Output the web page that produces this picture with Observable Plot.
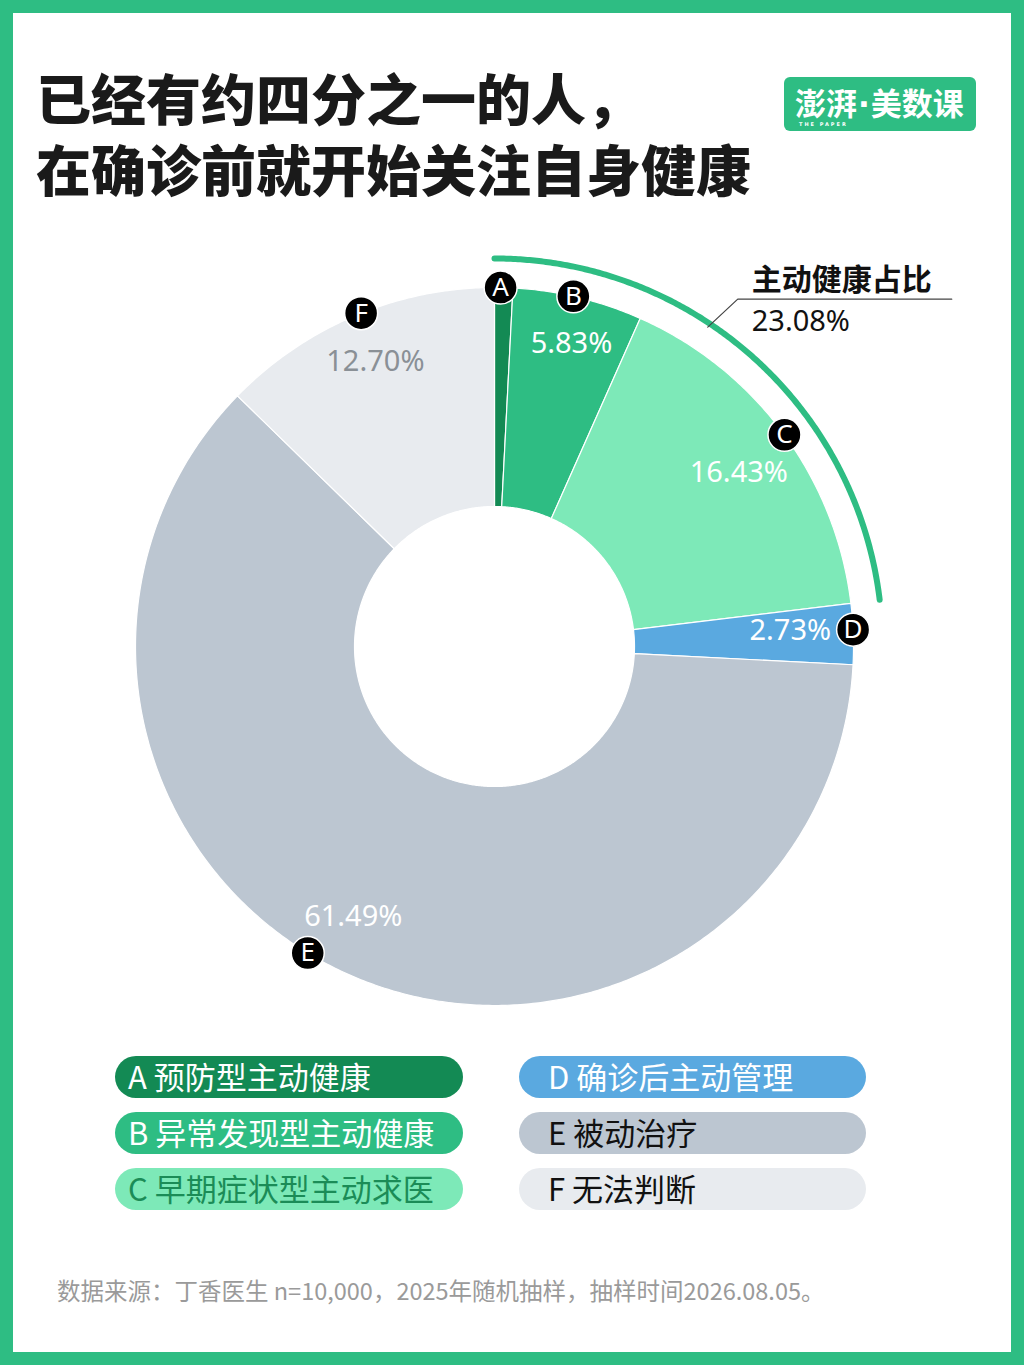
<!DOCTYPE html>
<html><head><meta charset="utf-8">
<script src="https://cdn.jsdelivr.net/npm/d3@7"></script>
<script src="https://cdn.jsdelivr.net/npm/@observablehq/plot@0.6"></script>
<style>
body{margin:0;}
#page{position:relative;width:1024px;height:1365px;background:#2ebd83;overflow:hidden;font-family:"Noto Sans CJK SC","Noto Sans",sans-serif;}
#inner{position:absolute;left:13px;top:13px;right:13px;bottom:13px;background:#fff;}
.tl{position:absolute;left:36px;height:60px;font-size:55px;line-height:60px;font-weight:900;color:#1a1a1a;white-space:nowrap;}
#logo{position:absolute;left:784px;top:77px;width:192px;height:54px;background:#2ebd83;border-radius:6px;color:#fff;}
#logo .main{position:absolute;left:11px;top:8px;height:34px;font-size:31px;line-height:34px;font-weight:700;white-space:nowrap;}
#logo .dot{font-family:"DejaVu Sans";font-weight:bold;margin:0 1px;}
#logo .sub{position:absolute;left:15px;top:44px;font-size:5px;line-height:6px;letter-spacing:2px;font-family:"DejaVu Sans";font-weight:bold;}
#chart{position:absolute;left:0;top:220px;}
.pill{position:absolute;height:42px;border-radius:21px;font-size:31px;line-height:42px;white-space:nowrap;}
#foot{position:absolute;left:57px;top:1273px;font-size:23.5px;color:#9a9a9a;white-space:nowrap;}
</style></head>
<body>
<div id="page">
  <div id="inner"></div>
  <div class="tl" style="top:66px">已经有约四分之一的人，</div>
  <div class="tl" style="top:137px">在确诊前就开始关注自身健康</div>
  <div id="logo"><div class="main">澎湃<span class="dot">·</span>美数课</div><div class="sub">THE PAPER</div></div>
  <div id="chart"></div>
  <div id="legend"></div>
  <div id="foot">数据来源：丁香医生 n=10,000，2025年随机抽样，抽样时间2026.08.05。</div>
</div>
<script>
const categories = ["A","B","C","D","E","F"];
const names = ["预防型主动健康","异常发现型主动健康","早期症状型主动求医","确诊后主动管理","被动治疗","无法判断"];
const values = [0.82, 5.83, 16.43, 2.73, 61.49, 12.70];
const colors = ["#138a54","#2ebd83","#7de9b8","#5aa9e0","#bcc6d1","#e8ebef"];
const legendTextColors = ["#ffffff","#ffffff","#1b8c57","#ffffff","#111111","#111111"];
const activeKeys = ["A","B","C"];
const annotationTitle = "主动健康占比";
// where along each slice (0 = start, 1 = end) the letter badge and the value label sit
const markerShift = [0.33, 0.464, 0.506, 0.43, 0.535, 0.523];
const labelShift  = [0.5, 0.54, 0.517, 0.43, 0.518, 0.504];
const labelRadius = [305, 312, 300, 337, 305, 309];

const R_OUT = 359, R_IN = 140, R_ARC = 388, R_MARK = 359;
const total = d3.sum(values);
const starts = [];
let acc = 0;
values.forEach(v => { starts.push(acc / total); acc += v; });
const ends = starts.map((s, i) => s + values[i] / total);
const polar = (f, r) => ({x: r * Math.sin(2 * Math.PI * f), y: r * Math.cos(2 * Math.PI * f)});

const slicePts = [];
categories.forEach((k, i) => {
  const s = starts[i], e = ends[i];
  const n = Math.max(2, Math.ceil((e - s) * 720));
  for (let j = 0; j <= n; j++) { const p = polar(s + (e - s) * j / n, R_OUT); slicePts.push({key: k, ...p}); }
  for (let j = n; j >= 0; j--) { const p = polar(s + (e - s) * j / n, R_IN); slicePts.push({key: k, ...p}); }
});

const activeShare = d3.sum(categories.map((k, i) => activeKeys.includes(k) ? values[i] : 0));
const arcEnd = activeShare / total;
const arcPts = d3.range(0, 241).map(j => polar(arcEnd * j / 240, R_ARC));

const at = (i, shift, r) => polar(starts[i] + (ends[i] - starts[i]) * shift, r);
const markers = categories.map((k, i) => ({key: k, ...at(i, markerShift[i], R_MARK)}));
const pct = v => v.toFixed(2) + "%";
const lab = i => ({text: pct(values[i]), ...at(i, labelShift[i], labelRadius[i])});
const whiteLabels = [1, 2, 4].map(lab);
const greyLabels = [5].map(lab);
const dLabel = [3].map(lab);

// annotation leader: starts on the arc, elbows up, runs right under the heading
const leadStart = polar(arcEnd * 0.406, R_ARC - 4);
const leadElbow = {x: leadStart.x + 30, y: leadStart.y + 28};
const leadEnd = {x: leadElbow.x + 214, y: leadElbow.y};
const leaderPts = [leadStart, leadElbow, leadEnd];
const annX = leadElbow.x + 14;

const chart = Plot.plot({
  width: 1024, height: 820, margin: 0,
  x: {domain: [-494, 530], axis: null},
  y: {domain: [-394, 426], axis: null},
  color: {domain: categories, range: colors},
  style: {background: "transparent", overflow: "visible", fontFamily: "'Noto Sans','Noto Sans CJK SC',sans-serif"},
  marks: [
    Plot.line(slicePts, {x: "x", y: "y", z: "key", fill: "key", stroke: "#ffffff", strokeWidth: 1.2, curve: "linear-closed"}),
    Plot.line(arcPts, {x: "x", y: "y", stroke: "#2ebd83", strokeWidth: 6}),
    Plot.line(leaderPts, {x: "x", y: "y", stroke: "#444", strokeWidth: 1.2}),
    Plot.text([{t: annotationTitle, x: annX, y: leadElbow.y + 19}], {x: "x", y: "y", text: "t", textAnchor: "start", fontSize: 30, fontWeight: 700, fill: "#111", fontFamily: "Noto Sans CJK SC"}),
    Plot.text([{t: pct(activeShare), x: annX, y: leadElbow.y - 23}], {x: "x", y: "y", text: "t", textAnchor: "start", fontSize: 29, fill: "#111"}),
    Plot.text(whiteLabels, {x: "x", y: "y", text: "text", fill: "#ffffff", fontSize: 29}),
    Plot.text(greyLabels, {x: "x", y: "y", text: "text", fill: "#8a9096", fontSize: 29}),
    Plot.text(dLabel, {x: "x", y: "y", text: "text", fill: "#ffffff", fontSize: 29, textAnchor: "end"}),
    Plot.dot(markers, {x: "x", y: "y", r: 16.5, fill: "#000", stroke: "#fff", strokeWidth: 1.5}),
    Plot.text(markers, {x: "x", y: "y", text: "key", fill: "#fff", fontSize: 26})
  ]
});
document.getElementById("chart").appendChild(chart);

const legend = document.getElementById("legend");
categories.forEach((k, i) => {
  const col = i < 3 ? 0 : 1, row = i % 3;
  const el = document.createElement("div");
  el.className = "pill";
  el.style.left = (col ? 519 : 115) + "px";
  el.style.width = (col ? 347 : 348) + "px";
  el.style.top = (1056 + row * 56) + "px";
  el.style.background = colors[i];
  el.style.color = legendTextColors[i];
  const t = document.createElement("span");
  t.style.position = "absolute";
  t.style.left = (col ? 29 : 13) + "px";
  t.style.top = "-1px";
  t.textContent = k + " " + names[i];
  el.appendChild(t);
  legend.appendChild(el);
});
</script>
</body></html>
